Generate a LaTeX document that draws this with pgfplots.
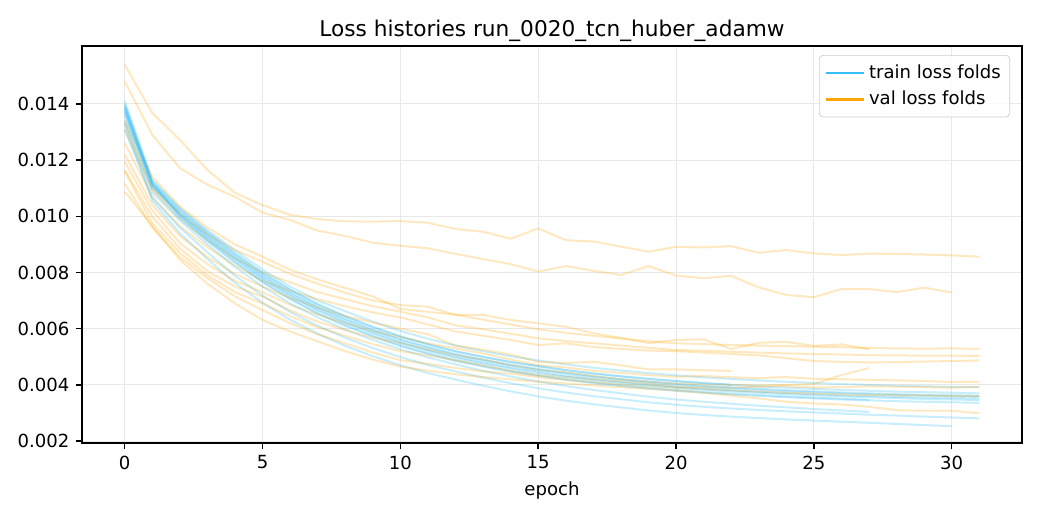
\documentclass[border=0pt]{standalone}
\usepackage{fontspec}
\setmainfont{DejaVu Sans}
\usepackage{pgfplots}
\usepackage{pgfplotstable}
\pgfplotsset{compat=1.18}
\definecolor{trainc}{RGB}{56,189,248}
\definecolor{valc}{RGB}{255,165,0}
\definecolor{gridc}{RGB}{232,232,232}
\pgfplotstableread{
e t1 t2 t3 t4 t5 t6 t7 t8 t9 t10 t11 t12
0 0.01385 0.01330 0.01410 0.01370 0.01360 0.01395 0.01400 0.01310 0.01340 0.01380 0.01375 0.01390
1 0.01115 0.01055 0.01130 0.01110 0.01100 0.01120 0.01125 0.01065 0.01085 0.01118 0.01108 0.01112
2 0.01015 0.00940 0.01030 0.01005 0.00995 0.01000 0.01025 0.00960 0.00985 0.01020 0.01010 0.01005
3 0.00935 0.00848 0.00950 0.00925 0.00912 0.00915 0.00945 0.00872 0.00900 0.00940 0.00930 0.00922
4 0.00860 0.00763 0.00880 0.00850 0.00835 0.00838 0.00870 0.00788 0.00820 0.00866 0.00856 0.00846
5 0.00790 0.00692 0.00810 0.00780 0.00765 0.00768 0.00800 0.00718 0.00750 0.00797 0.00786 0.00776
6 0.00730 0.00632 0.00750 0.00720 0.00705 0.00708 0.00740 0.00660 0.00690 0.00738 0.00726 0.00716
7 0.00678 0.00582 0.00700 0.00668 0.00653 0.00656 0.00688 0.00610 0.00640 0.00686 0.00675 0.00665
8 0.00635 0.00539 0.00662 0.00625 0.00610 0.00613 0.00645 0.00568 0.00597 0.00643 0.00632 0.00621
9 0.00597 0.00502 0.00625 0.00587 0.00572 0.00575 0.00607 0.00531 0.00560 0.00605 0.00594 0.00583
10 0.00563 0.00470 0.00592 0.00553 0.00538 0.00541 0.00573 0.00499 0.00527 0.00572 0.00560 0.00549
11 0.00535 0.00442 0.00564 0.00525 0.00510 0.00513 0.00545 0.00471 0.00498 0.00544 0.00532 0.00521
12 0.00510 0.00419 0.00540 0.00500 0.00485 0.00488 0.00520 0.00448 0.00473 0.00519 0.00507 0.00496
13 0.00490 0.00397 0.00520 0.00480 0.00465 0.00468 0.00500 0.00426 0.00450 0.00499 0.00487 0.00476
14 0.00472 0.00377 0.00502 0.00462 0.00447 0.00450 0.00482 0.00406 0.00430 0.00481 0.00469 0.00458
15 0.00457 0.00359 0.00487 0.00447 0.00432 0.00435 0.00467 0.00388 0.00412 0.00466 0.00454 0.00443
16 0.00443 0.00344 0.00473 0.00433 0.00418 0.00421 0.00453 0.00373 0.00396 0.00452 0.00440 0.00429
17 0.00431 0.00331 0.00461 0.00421 0.00406 0.00409 0.00441 0.00360 0.00382 0.00440 0.00428 0.00417
18 0.00421 0.00320 0.00451 0.00411 0.00396 0.00399 0.00431 0.00349 0.00370 0.00430 0.00418 0.00407
19 0.00412 0.00309 0.00442 0.00402 0.00387 0.00390 0.00422 0.00338 0.00358 0.00421 0.00409 0.00398
20 0.00404 0.00300 0.00434 0.00394 0.00379 0.00382 0.00414 0.00329 0.00348 0.00413 0.00401 0.00390
21 0.00397 0.00293 0.00427 0.00387 0.00372 0.00375 0.00407 0.00322 0.00340 0.00406 0.00394 0.00383
22 0.00391 0.00287 0.00421 0.00381 0.00366 0.00369 0.00401 0.00316 0.00333 0.00400 0.00388 0.00377
23 0.00386 0.00282 0.00416 0.00376 0.00361 0.00364 nan 0.00311 0.00326 0.00395 0.00383 0.00372
24 0.00381 0.00277 0.00411 0.00371 0.00356 0.00359 nan 0.00306 0.00320 0.00390 0.00378 0.00367
25 0.00377 0.00273 0.00407 0.00367 0.00352 0.00355 nan 0.00302 0.00314 0.00386 0.00374 0.00363
26 0.00373 0.00269 0.00403 0.00363 0.00348 0.00351 nan 0.00298 0.00309 0.00382 0.00370 0.00359
27 0.00370 0.00265 0.00400 0.00360 0.00345 0.00347 nan 0.00294 0.00304 0.00379 0.00367 0.00356
28 0.00367 0.00261 0.00397 0.00357 0.00342 nan nan 0.00291 nan 0.00376 0.00364 0.00353
29 0.00365 0.00257 0.00395 0.00355 0.00340 nan nan 0.00287 nan 0.00374 0.00362 0.00350
30 0.00363 0.00253 0.00393 0.00353 0.00338 nan nan 0.00284 nan 0.00372 0.00360 0.00348
31 0.00361 nan 0.00392 0.00352 0.00336 nan nan 0.00281 nan 0.00370 0.00358 0.00346
}\traintable
\pgfplotstableread{
e v1 v2 v3 v4 v5 v6 v7 v8 v9 v10 v11 v12
0 0.01539 0.01480 0.01343 0.01307 0.01260 0.01331 0.01220 0.01195 0.01165 0.01160 0.01117 0.01088
1 0.01368 0.01290 0.01141 0.01094 0.01070 0.01100 0.01040 0.01020 0.00999 0.00975 0.00960 0.00965
2 0.01272 0.01172 0.01035 0.00990 0.00965 0.01010 0.00930 0.00905 0.00885 0.00870 0.00855 0.00845
3 0.01165 0.01112 0.00960 0.00915 0.00890 0.00935 0.00855 0.00830 0.00805 0.00790 0.00780 0.00760
4 0.01083 0.01069 0.00900 0.00850 0.00825 0.00880 0.00795 0.00770 0.00750 0.00730 0.00715 0.00690
5 0.01040 0.01013 0.00856 0.00800 0.00770 0.00838 0.00750 0.00730 0.00714 0.00690 0.00666 0.00631
6 0.01005 0.00987 0.00810 0.00765 0.00735 0.00795 0.00710 0.00685 0.00665 0.00645 0.00620 0.00590
7 0.00990 0.00949 0.00775 0.00730 0.00705 0.00760 0.00675 0.00650 0.00625 0.00605 0.00580 0.00555
8 0.00982 0.00930 0.00745 0.00705 0.00680 0.00728 0.00645 0.00620 0.00595 0.00575 0.00548 0.00520
9 0.00981 0.00906 0.00715 0.00680 0.00658 0.00700 0.00622 0.00592 0.00568 0.00545 0.00515 0.00490
10 0.00983 0.00895 0.00670 0.00660 0.00640 0.00684 0.00600 0.00570 0.00549 0.00520 0.00488 0.00465
11 0.00977 0.00886 0.00660 0.00640 0.00615 0.00678 0.00580 0.00548 0.00525 0.00505 0.00475 0.00450
12 0.00955 0.00866 0.00650 0.00612 0.00590 0.00649 0.00540 0.00530 0.00505 0.00488 0.00460 0.00438
13 0.00945 0.00848 0.00632 0.00598 0.00575 0.00649 0.00525 0.00512 0.00490 0.00470 0.00448 0.00428
14 0.00920 0.00830 0.00615 0.00582 0.00560 0.00631 0.00508 0.00490 0.00470 0.00450 0.00440 0.00420
15 0.00957 0.00803 0.00598 0.00566 0.00542 0.00619 0.00482 0.00470 0.00453 0.00435 0.00428 0.00411
16 0.00915 0.00823 0.00585 0.00556 0.00548 0.00607 0.00478 0.00462 0.00445 0.00428 0.00418 0.00405
17 0.00910 0.00806 0.00575 0.00548 0.00535 0.00584 0.00482 0.00450 0.00432 0.00420 0.00410 0.00398
18 0.00892 0.00791 0.00565 0.00540 0.00528 0.00567 0.00470 0.00443 0.00420 0.00412 0.00402 0.00392
19 0.00874 0.00823 0.00555 0.00532 0.00522 0.00549 0.00455 0.00435 0.00412 0.00405 0.00396 0.00386
20 0.00891 0.00789 0.00548 0.00524 0.00520 0.00560 0.00455 0.00429 0.00405 0.00393 0.00390 0.00380
21 0.00889 0.00780 0.00545 0.00522 0.00515 0.00562 0.00452 0.00432 0.00402 0.00392 0.00385 0.00372
22 0.00894 0.00788 0.00542 0.00518 0.00510 0.00528 0.00450 0.00427 0.00400 0.00390 0.00380 0.00362
23 0.00870 0.00747 0.00540 0.00515 0.00505 0.00550 nan 0.00424 0.00398 0.00393 0.00376 0.00352
24 0.00880 0.00720 0.00538 0.00512 0.00495 0.00553 nan 0.00428 0.00400 0.00396 0.00372 0.00340
25 0.00868 0.00712 0.00536 0.00510 0.00485 0.00539 nan 0.00422 0.00403 0.00391 0.00369 0.00334
26 0.00862 0.00741 0.00534 0.00508 0.00482 0.00544 nan 0.00420 0.00435 0.00392 0.00366 0.00330
27 0.00867 0.00741 0.00531 0.00506 0.00480 0.00527 nan 0.00418 0.00460 0.00395 0.00364 0.00322
28 0.00866 0.00730 0.00530 0.00505 0.00481 nan nan 0.00416 nan 0.00394 0.00363 0.00310
29 0.00864 0.00746 0.00529 0.00504 0.00483 nan nan 0.00414 nan 0.00392 0.00362 0.00308
30 0.00861 0.00729 0.00530 0.00504 0.00485 nan nan 0.00410 nan 0.00390 0.00360 0.00308
31 0.00856 nan 0.00528 0.00503 0.00487 nan nan 0.00411 nan 0.00393 0.00361 0.00299
}\valtable
\begin{document}
\begin{tikzpicture}
\begin{axis}[
  name=ax,
  at={(0,0)}, anchor=south west,
  scale only axis,
  width=520.6pt, height=219.9pt,
  xmin=-1.55, xmax=32.55,
  ymin=0.00193, ymax=0.01606,
  xtick={0,5,...,30},
  ytick={0.002,0.004,0.006,0.008,0.010,0.012,0.014},
  scaled y ticks=false,
  /pgf/number format/assume math mode=true,
  yticklabel={\pgfmathprintnumber[fixed,fixed zerofill,precision=3]{\tick}},
  xticklabel={\pgfmathprintnumber{\tick}},
  tick label style={font=\fontsize{10}{12}\selectfont, text=black},
  tick align=outside,
  major tick length=3.5pt,
  every tick/.style={black, line width=0.8pt},
  xtick pos=bottom, ytick pos=left,
  axis line style={black, line width=0.8pt},
  grid=major,
  major grid style={gridc, line width=0.6pt},
  title={Loss histories run\_0020\_tcn\_huber\_adamw},
  title style={font=\fontsize{12}{14}\selectfont, at={(axis description cs:0.5,1)}, anchor=base, yshift=-0.5pt},
  xlabel={epoch},
  xlabel style={font=\fontsize{10}{12}\selectfont, at={(axis description cs:0.5,0)}, anchor=base, yshift=-29pt},
  legend style={at={(1,1)}, anchor=north east, xshift=-6.6pt, yshift=-5pt,
    draw=black!20, rounded corners=2pt, fill=white, fill opacity=0.8, text opacity=1,
    font=\fontsize{10}{12}\selectfont, inner xsep=3pt, inner ysep=3.2pt, row sep=1.5pt},
  legend cell align=left,
  legend image code/.code={\draw[#1] (0pt,0pt) -- (21pt,0pt);},
]
\addlegendimage{trainc, line width=1.5pt}
\addlegendentry{train loss folds}
\addlegendimage{valc, line width=1.5pt}
\addlegendentry{val loss folds}
\pgfplotsinvokeforeach{1,...,12}{
  \addplot[trainc, opacity=0.28, line width=1.1pt, forget plot] table[x=e, y=t#1] {\traintable};
  \addplot[valc, opacity=0.25, line width=1.1pt, forget plot] table[x=e, y=v#1] {\valtable};
}
\end{axis}
\pgfresetboundingbox
\path ([shift={(-45.4pt,-42.65pt)}]ax.south west) rectangle ([shift={(9.97pt,25.48pt)}]ax.north east);
\end{tikzpicture}
\end{document}
